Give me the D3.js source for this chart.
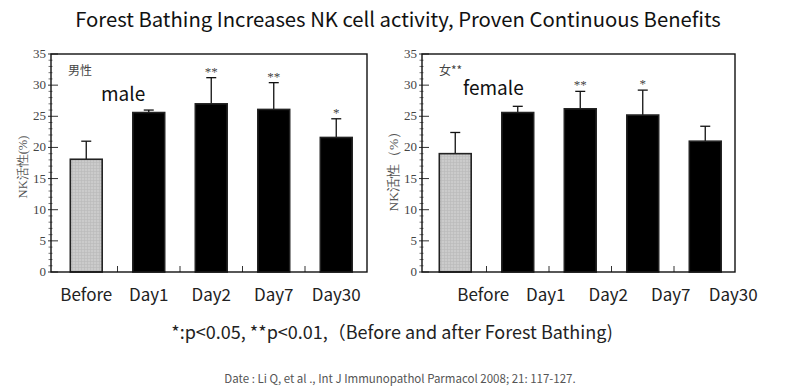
<!DOCTYPE html>
<html>
<head>
<meta charset="utf-8">
<script src="https://d3js.org/d3.v7.min.js"></script>
<style>
  body { margin: 0; background: #fff; }
  svg { display: block; }
</style>
</head>
<body>
<svg id="chart" width="800" height="388"></svg>
<script>
    const categories = ["Before", "Day1", "Day2", "Day7", "Day30"]
    const yTicks = [0, 5, 10, 15, 20, 25, 30, 35]

    const maleMean = [18.1, 25.6, 27.0, 26.1, 21.6]
    const maleUpper = [21.0, 26.0, 31.2, 30.4, 24.6]
    const maleSig = ["", "", "**", "**", "*"]

    const femaleMean = [19.0, 25.6, 26.2, 25.2, 21.0]
    const femaleUpper = [22.4, 26.6, 29.0, 29.2, 23.4]
    const femaleSig = ["", "", "**", "*", ""]

    const sans = "'Noto Sans CJK JP', 'Noto Sans', sans-serif"
    const serif = "'Liberation Serif', 'DejaVu Serif', serif"

    const svg = d3.select('#chart')

    // light grey hatch used by the "Before" bars
    const pat = svg.append('defs').append('pattern')
        .attr('id', 'grid').attr('width', 3).attr('height', 3)
        .attr('patternUnits', 'userSpaceOnUse')
    pat.append('rect').attr('width', 3).attr('height', 3).attr('fill', '#cbcbcb')
    pat.append('path').attr('d', 'M0,0.5H3M0.5,0V3').attr('stroke', '#b9b9b9').attr('stroke-width', 0.6)

    svg.append('text')
        .attr('x', 398).attr('y', 27)
        .attr('text-anchor', 'middle')
        .style('font-family', sans).style('font-size', '20.3px').style('fill', '#111')
        .text('Forest Bathing Increases NK cell activity, Proven Continuous Benefits')

    const yScale = d3.scaleLinear().domain([0, 35]).range([272, 54])

    let drawPanel = (opt) => {
        const g = svg.append('g')
        const xScale = d3.scaleBand()
            .domain(categories)
            .range([opt.x0, opt.x1])
            .paddingInner(0.49)
            .paddingOuter(0.245)

        const rows = categories.map((c, i) => ({ cat: c, mean: opt.mean[i], upper: opt.upper[i], sig: opt.sig[i] }))

        // minor ticks on y axis
        const minor = d3.range(0, 36).filter(v => v % 5 !== 0)
        g.selectAll('.minor').data(minor).enter().append('line')
            .attr('x1', opt.boxL - 2.5).attr('x2', opt.boxL + 1.5)
            .attr('y1', d => yScale(d)).attr('y2', d => yScale(d))
            .attr('stroke', '#555').attr('stroke-width', 0.8)

        // major ticks
        g.selectAll('.major').data(yTicks).enter().append('line')
            .attr('x1', opt.boxL - 3).attr('x2', opt.boxL + 7)
            .attr('y1', d => yScale(d)).attr('y2', d => yScale(d))
            .attr('stroke', '#333').attr('stroke-width', 1)

        g.selectAll('.ylab').data(yTicks).enter().append('text')
            .attr('x', opt.boxL - 5).attr('y', d => yScale(d) + 4)
            .attr('text-anchor', 'end')
            .style('font-family', serif).style('font-size', '13px').style('fill', '#444')
            .text(d => d)

        // small ticks between bars on x axis
        g.selectAll('.xtick').data(categories.slice(1)).enter().append('line')
            .attr('x1', d => xScale(d) - xScale.step() * xScale.paddingInner() / 2)
            .attr('x2', d => xScale(d) - xScale.step() * xScale.paddingInner() / 2)
            .attr('y1', yScale(0)).attr('y2', yScale(0) - 6)
            .attr('stroke', '#333').attr('stroke-width', 1)

        // error bars
        const err = g.selectAll('.err').data(rows.filter(r => r.upper != null)).enter().append('g')
        err.append('line')
            .attr('x1', d => xScale(d.cat) + xScale.bandwidth() / 2)
            .attr('x2', d => xScale(d.cat) + xScale.bandwidth() / 2)
            .attr('y1', d => yScale(d.mean)).attr('y2', d => yScale(d.upper))
            .attr('stroke', '#111').attr('stroke-width', 1.3)
        err.append('line')
            .attr('x1', d => xScale(d.cat) + xScale.bandwidth() / 2 - 5)
            .attr('x2', d => xScale(d.cat) + xScale.bandwidth() / 2 + 5)
            .attr('y1', d => yScale(d.upper)).attr('y2', d => yScale(d.upper))
            .attr('stroke', '#111').attr('stroke-width', 1.3)

        g.selectAll('.sig').data(rows.filter(r => r.sig)).enter().append('text')
            .attr('x', d => xScale(d.cat) + xScale.bandwidth() / 2)
            .attr('y', d => yScale(d.upper) - 2)
            .attr('text-anchor', 'middle')
            .style('font-family', serif).style('font-size', '13px').style('fill', '#444')
            .text(d => d.sig)

        // bars
        g.selectAll('.bar').data(rows).enter().append('rect')
            .attr('x', d => xScale(d.cat))
            .attr('y', d => yScale(d.mean))
            .attr('width', xScale.bandwidth())
            .attr('height', d => yScale(0) - yScale(d.mean))
            .attr('fill', (d, i) => i === 0 ? 'url(#grid)' : '#000')
            .attr('stroke', '#222').attr('stroke-width', 1.6)

        // frame
        g.append('rect')
            .attr('x', opt.boxL).attr('y', yScale(35))
            .attr('width', opt.boxR - opt.boxL).attr('height', yScale(0) - yScale(35))
            .attr('fill', 'none').attr('stroke', '#111').attr('stroke-width', 1.4)

        g.selectAll('.xlab').data(categories).enter().append('text')
            .attr('x', d => xScale(d) + xScale.bandwidth() / 2 + opt.labelShift)
            .attr('y', 301)
            .attr('text-anchor', 'middle')
            .style('font-family', sans).style('font-size', '17px').style('fill', '#222')
            .text(d => d)

        g.append('text')
            .attr('transform', `translate(${opt.yLabelX},${opt.yLabelY}) rotate(-90)`)
            .attr('text-anchor', 'middle')
            .style('font-family', serif).style('font-size', opt.yLabelSize).style('fill', '#555')
            .text(opt.yLabel)

        g.append('text')
            .attr('x', opt.boxL + 17).attr('y', 75)
            .style('font-family', sans).style('font-size', '12px').style('fill', '#444')
            .text(opt.tag)

        g.append('text')
            .attr('x', opt.nameX).attr('y', opt.nameY)
            .style('font-family', sans).style('font-size', '19px').style('fill', '#111')
            .text(opt.name)
    }

    drawPanel({ x0: 55, x1: 367.5, boxL: 51, boxR: 367, mean: maleMean, upper: maleUpper, sig: maleSig,
        labelShift: 0, yLabel: 'NK活性(%)', yLabelX: 27, yLabelY: 167, yLabelSize: '12.5px',
        tag: '男性', name: 'male', nameX: 101, nameY: 101 })

    drawPanel({ x0: 424, x1: 736.5, boxL: 422, boxR: 735, mean: femaleMean, upper: femaleUpper, sig: femaleSig,
        labelShift: 28, yLabel: 'NK活性（%）', yLabelX: 398, yLabelY: 168, yLabelSize: '13.5px',
        tag: '女**', name: 'female', nameX: 463, nameY: 95 })

    svg.append('text')
        .attr('x', 392).attr('y', 339)
        .attr('text-anchor', 'middle')
        .style('font-family', sans).style('font-size', '18px').style('fill', '#222')
        .text('*:p<0.05, **p<0.01,（Before and after Forest Bathing)')

    svg.append('text')
        .attr('x', 400).attr('y', 383)
        .attr('text-anchor', 'middle')
        .style('font-family', sans).style('font-size', '11.5px').style('fill', '#555')
        .text('Date : Li Q, et al ., Int J Immunopathol Parmacol 2008; 21: 117-127.')
</script>
</body>
</html>
